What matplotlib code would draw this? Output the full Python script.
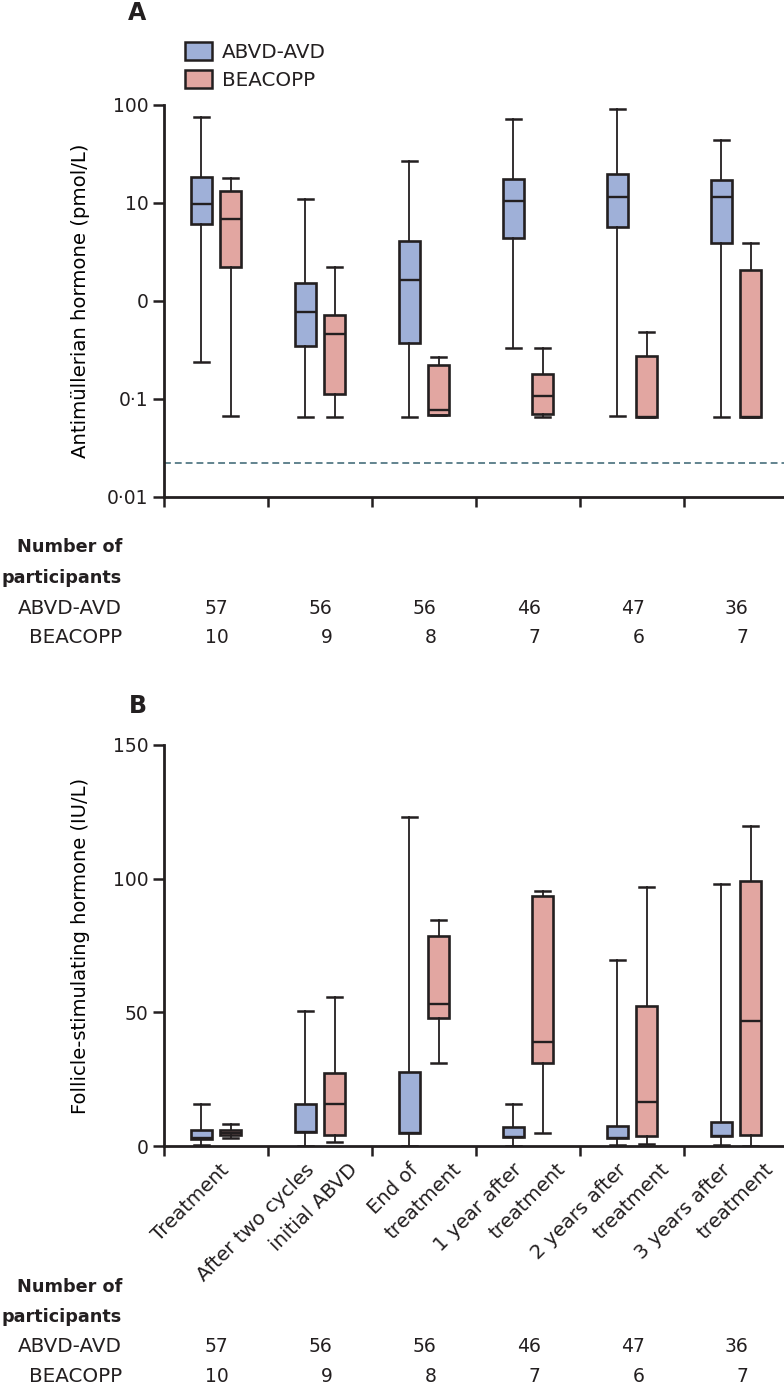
import numpy as np
import matplotlib
matplotlib.use("Agg")
import matplotlib.pyplot as plt
from matplotlib.patches import Patch
from matplotlib.transforms import blended_transform_factory

# time points (x categories)
time_labels = ["Treatment", "After two cycles\ninitial ABVD", "End of\ntreatment",
               "1 year after\ntreatment", "2 years after\ntreatment", "3 years after\ntreatment"]
n_abvd = [57, 56, 56, 46, 47, 36]
n_beacopp = [10, 9, 8, 7, 6, 7]

# box stats per time point: whisker low, q1, median, q3, whisker high
amh_abvd = [[0.24, 6.1, 9.8, 18.4, 75],
            [0.066, 0.35, 0.77, 1.53, 11],
            [0.066, 0.37, 1.64, 4.1, 27],
            [0.33, 4.4, 10.5, 17.6, 72],
            [0.067, 5.7, 11.5, 19.8, 91],
            [0.066, 3.9, 11.5, 17.2, 44]]
amh_beacopp = [[0.067, 2.2, 6.9, 13.3, 18],
               [0.066, 0.112, 0.46, 0.72, 2.2],
               [0.069, 0.069, 0.077, 0.22, 0.27],
               [0.066, 0.07, 0.107, 0.18, 0.33],
               [0.066, 0.066, 0.066, 0.275, 0.48],
               [0.066, 0.066, 0.066, 2.07, 3.9]]
amh_detection_limit = 0.022

fsh_abvd = [[0.5, 2.6, 3.0, 6.0, 15.7],
            [0, 5.2, 5.2, 15.7, 50.4],
            [0, 4.9, 4.9, 27.6, 123],
            [0, 3.3, 3.3, 7.1, 15.7],
            [0.4, 3.0, 3.0, 7.5, 69.4],
            [0.5, 3.7, 3.7, 9.0, 98]]
fsh_beacopp = [[2.9, 4.0, 4.9, 6.0, 8.2],
               [1.5, 4.1, 15.7, 27.2, 55.6],
               [31, 47.8, 53, 78.4, 84.7],
               [4.9, 31, 38.8, 93.7, 95.5],
               [0.7, 3.7, 16.5, 52.2, 97],
               [0, 4.1, 46.6, 99.3, 119.8]]

blue = "#9fb0d8"
pink = "#e2a6a1"
dark = "#231f20"

plt.rcParams["font.family"] = "DejaVu Sans"
plt.rcParams["font.size"] = 13.5
plt.rcParams["text.color"] = dark

W, H = 784, 1388
fig = plt.figure(figsize=(W / 100, H / 100), dpi=100)
axA = fig.add_axes([164 / W, 1 - 497 / H, 624 / W, 392 / H])
axB = fig.add_axes([164 / W, 1 - 1146 / H, 624 / W, 401 / H])


def to_stats(rows):
    return [dict(whislo=r[0], q1=r[1], med=r[2], q3=r[3], whishi=r[4]) for r in rows]


def draw_boxes(ax, abvd, beacopp):
    x = np.arange(len(time_labels))
    for rows, off, col in [(abvd, -0.14, blue), (beacopp, 0.14, pink)]:
        ax.bxp(to_stats(rows), positions=x + off, widths=0.21, capwidths=0.14,
               patch_artist=True, showfliers=False, manage_ticks=False,
               boxprops=dict(facecolor=col, edgecolor=dark, linewidth=1.9),
               medianprops=dict(color=dark, linewidth=1.7),
               whiskerprops=dict(color=dark, linewidth=1.3),
               capprops=dict(color=dark, linewidth=1.8))
    ax.set_xlim(-0.5, len(time_labels) - 0.5)
    ax.set_xticks(np.arange(len(time_labels) + 1) - 0.5)
    ax.set_xticklabels([])
    for s in ["top", "right"]:
        ax.spines[s].set_visible(False)
    for s in ["left", "bottom"]:
        ax.spines[s].set_linewidth(2)
        ax.spines[s].set_color(dark)
    ax.tick_params(axis="y", length=8, width=1.8, pad=3, colors=dark)
    ax.tick_params(axis="x", length=7, width=1.8, colors=dark)
    ax.tick_params(which="minor", length=0)


def participants(ax, rows_px):
    y = [1 - r / H for r in rows_px]
    fig.text(122 / W, y[0], "Number of", ha="right", va="center", weight="bold", size=12.7)
    fig.text(122 / W, y[1], "participants", ha="right", va="center", weight="bold", size=12.7)
    fig.text(122 / W, y[2], "ABVD-AVD", ha="right", va="center", size=14.3)
    fig.text(122 / W, y[3], "BEACOPP", ha="right", va="center", size=14.3)
    tr = blended_transform_factory(ax.transData, fig.transFigure)
    for i, (a, b) in enumerate(zip(n_abvd, n_beacopp)):
        ax.text(i + 0.12, y[2], str(a), transform=tr, ha="right", va="center")
        ax.text(i + 0.12, y[3], str(b), transform=tr, ha="right", va="center")


# panel A
draw_boxes(axA, amh_abvd, amh_beacopp)
axA.set_yscale("log")
axA.set_ylim(0.01, 100)
axA.set_yticks([0.01, 0.1, 1, 10, 100])
axA.set_yticklabels(["0·01", "0·1", "0", "10", "100"])
axA.axhline(amh_detection_limit, color="#557a86", linestyle=(0, (3.8, 2.2)), linewidth=1.3)
axA.set_ylabel("Antimüllerian hormone (pmol/L)", size=14.2)
axA.yaxis.set_label_coords(-0.118, 0.5)
fig.text(137 / W, 1 - 13 / H, "A", ha="center", va="center", weight="bold", size=17)
fig.legend(handles=[Patch(facecolor=blue, edgecolor=dark, linewidth=1.8, label="ABVD-AVD"),
                    Patch(facecolor=pink, edgecolor=dark, linewidth=1.8, label="BEACOPP")],
           loc="upper left", bbox_to_anchor=(185 / W, 1 - 42 / H), frameon=False,
           borderpad=0, borderaxespad=0, handlelength=1.35, handleheight=1.0,
           handletextpad=0.5, labelspacing=0.42, fontsize=14.3)
participants(axA, [547, 578, 608, 638])

# panel B
draw_boxes(axB, fsh_abvd, fsh_beacopp)
axB.set_ylim(0, 150)
axB.set_yticks([0, 50, 100, 150])
axB.set_ylabel("Follicle-stimulating hormone (IU/L)", size=14)
axB.yaxis.set_label_coords(-0.118, 0.5)
fig.text(138 / W, 1 - 706 / H, "B", ha="center", va="center", weight="bold", size=17)
trB = blended_transform_factory(axB.transData, axB.transAxes)
for i, lab in enumerate(time_labels):
    lines = lab.split("\n")
    xs = [i + 0.03] if len(lines) == 1 else [i - 0.15, i + 0.27]
    for xx, line in zip(xs, lines):
        axB.text(xx, -0.035, line, transform=trB, rotation=45, rotation_mode="anchor",
                 ha="right", va="top", size=14.2)
participants(axB, [1287, 1317, 1347, 1377])

fig.savefig("out.png", dpi=100)
